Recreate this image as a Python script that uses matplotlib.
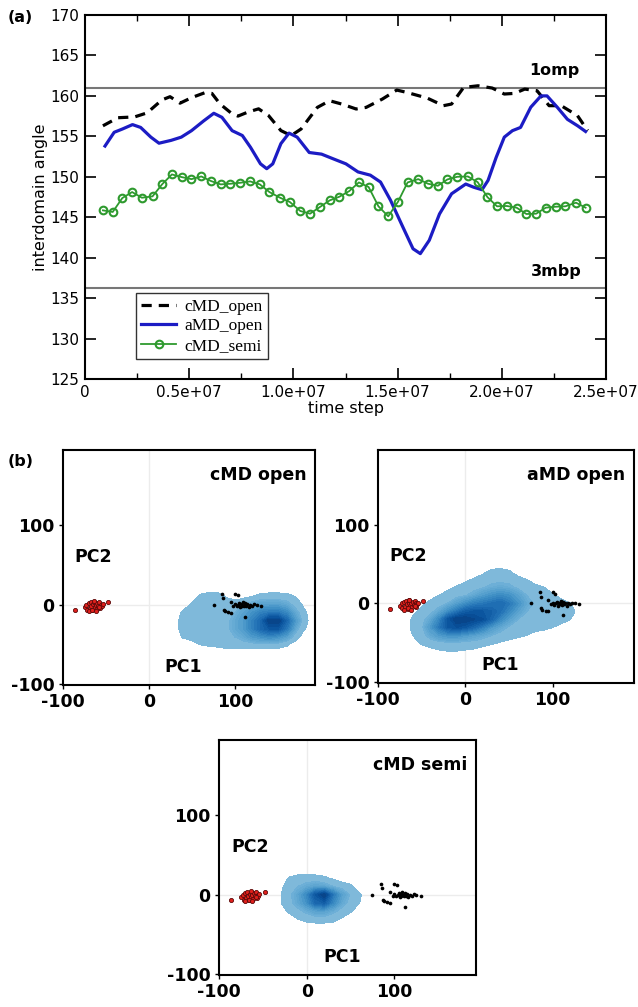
import numpy as np
import matplotlib
matplotlib.use("Agg")
import matplotlib.pyplot as plt
from matplotlib.colors import ListedColormap

# ---------------- DATA: panel (a) ----------------
cmd_open_t = [0.86, 1.58, 2.38, 2.98, 3.69, 4.08, 4.56, 5.13, 5.76, 6.09, 6.48, 7.05, 7.34,
              7.82, 8.33, 8.81, 9.40, 9.89, 10.37, 11.15, 11.74, 12.32, 13.01, 13.49, 14.27,
              14.96, 15.44, 16.42, 17.20, 17.59, 18.17, 18.86, 19.54, 20.12, 20.61, 21.10,
              21.69, 22.27, 22.85, 23.63, 24.12]
cmd_open_v = [156.3, 157.3, 157.4, 157.9, 159.5, 159.9, 159.1, 159.8, 160.4, 160.3, 159.0,
              157.8, 157.5, 158.0, 158.4, 157.56, 155.71, 155.09, 155.91, 158.58, 159.40,
              158.99, 158.38, 158.58, 159.61, 160.72, 160.43, 159.73, 158.79, 158.99, 161.05,
              161.25, 160.97, 160.23, 160.31, 160.84, 160.64, 158.79, 158.79, 157.56, 155.71]

amd_open_t = [0.96, 1.40, 1.79, 2.28, 2.67, 3.16, 3.55, 4.13, 4.62, 5.11, 5.69, 6.18, 6.57,
              7.06, 7.55, 7.94, 8.42, 8.72, 9.01, 9.40, 9.79, 10.18, 10.76, 11.35, 11.93,
              12.52, 13.10, 13.69, 14.18, 14.66, 15.25, 15.74, 16.09, 16.52, 17.01, 17.59,
              18.27, 18.66, 19.05, 19.34, 19.73, 20.12, 20.51, 20.90, 21.39, 21.88, 22.17,
              22.66, 23.15, 23.64, 24.02]
amd_open_v = [153.8, 155.5, 155.9, 156.45, 156.1, 154.9, 154.15, 154.5, 154.9, 155.7, 156.9,
              157.85, 157.35, 155.7, 155.1, 153.65, 151.6, 151.0, 151.6, 154.1, 155.4, 154.9,
              153.0, 152.8, 152.2, 151.6, 150.6, 150.2, 149.35, 147.1, 143.8, 141.1, 140.5,
              142.15, 145.4, 147.9, 149.1, 148.7, 148.4, 149.55, 152.4, 154.9, 155.7, 156.1,
              158.6, 160.0, 160.0, 158.6, 157.1, 156.3, 155.6]

cmd_semi_t = [0.86, 1.33, 1.79, 2.26, 2.73, 3.24, 3.71, 4.17, 4.64, 5.11, 5.58, 6.05, 6.51,
              6.98, 7.45, 7.92, 8.39, 8.85, 9.36, 9.83, 10.33, 10.80, 11.27, 11.74, 12.21,
              12.68, 13.14, 13.61, 14.08, 14.55, 15.02, 15.48, 15.99, 16.46, 16.93, 17.39,
              17.86, 18.37, 18.84, 19.31, 19.77, 20.24, 20.71, 21.18, 21.65, 22.11, 22.58,
              23.05, 23.56, 24.02]
cmd_semi_v = [145.85, 145.65, 147.37, 148.11, 147.41, 147.58, 149.10, 150.29, 149.96, 149.71,
              150.04, 149.47, 149.06, 149.14, 149.26, 149.43, 149.06, 148.11, 147.41, 146.88,
              145.77, 145.44, 146.26, 147.08, 147.54, 148.23, 149.30, 148.73, 146.35, 145.11,
              146.92, 149.30, 149.71, 149.14, 148.89, 149.67, 150.00, 150.04, 149.34, 147.49,
              146.35, 146.39, 146.18, 145.40, 145.44, 146.18, 146.30, 146.35, 146.80, 146.18]

ref_1omp = 161.0
ref_3mbp = 136.2
x_tick_vals = [0, 0.5e7, 1.0e7, 1.5e7, 2.0e7, 2.5e7]
x_tick_labels = ["0", "0.5e+07", "1.0e+07", "1.5e+07", "2.0e+07", "2.5e+07"]
y_tick_vals = [125, 130, 135, 140, 145, 150, 155, 160, 165, 170]

# ---------------- DATA: panel (b) ----------------
red_x = [-86, -75, -73, -72, -70, -69, -68, -67, -66, -65, -64, -63, -62, -61, -60, -59,
         -58, -57, -56, -55, -54, -48, -70, -66, -62, -58, -64]
red_y = [-7, -3, 0, -6, 2, -4, 3, -1, -7, 1, 4, -3, 0, -5, 2, -2, 3, -4, 0, -1, 1, 3, -8,
         -6, -8, -3, 5]
black_x = [75, 85, 86, 87, 92, 95, 98, 100, 102, 104, 105, 106, 107, 108, 109, 110, 111, 112,
           113, 114, 116, 118, 120, 122, 125, 100, 103, 88, 95, 112, 130]
black_y = [0, 14, 8, -6, -9, 4, -1, 1, -2, 0, 2, -3, 1, -1, 3, 0, -2, 2, -1, 1, -3, 0, -1, 1,
           0, 14, 12, -8, -10, -15, -1]

cmd_open_gx = [40, 50, 60, 70, 80, 90, 100, 110, 120, 130, 140, 150, 160, 170, 180]
cmd_open_gy = [10, 0, -10, -20, -30, -40, -50]
cmd_open_dens = [
    [0, 0, 0.7, 1, 1, 0.4, 0, 0.2, 0.5, 0.8, 0.9, 0.9, 0.8, 0.5, 0],
    [0, 0.6, 1, 1.2, 1.2, 1.1, 1.1, 1.5, 2, 2.5, 2.5, 2.5, 2, 1.1, 0.3],
    [0.7, 1, 1.1, 1.1, 1, 1, 1.5, 2.5, 3.5, 4.5, 5, 5, 4, 2, 0.7],
    [1, 1.1, 1.1, 1.1, 1, 1.1, 2, 3, 4.5, 6, 8.5, 8.5, 6, 3, 0.9],
    [1, 1.1, 1.1, 1, 1, 1.2, 2, 3, 4.5, 6, 7, 7, 5, 2, 0.6],
    [0.6, 0.9, 1, 1, 1, 1.1, 1.5, 2, 3, 3.5, 4, 3.5, 2.5, 1, 0],
    [0, 0, 0.5, 0.6, 0.7, 0.9, 1, 1, 1, 1, 1, 0.9, 0.6, 0, 0],
]

amd_open_gx = [-70, -60, -50, -40, -30, -20, -10, 0, 10, 20, 30, 40, 50, 60, 70, 80, 90, 100,
               110, 120, 130, 140]
amd_open_gy = [40, 30, 20, 10, 0, -10, -20, -30, -40, -50, -60]
amd_open_dens = [
    [0, 0, 0, 0, 0, 0, 0, 0, 0, 0.3, 0.7, 0.8, 0.6, 0, 0, 0, 0, 0, 0, 0, 0, 0],
    [0, 0, 0, 0, 0, 0, 0, 0.3, 0.6, 0.9, 1.1, 1.2, 1.1, 0.9, 0.5, 0, 0, 0, 0, 0, 0, 0],
    [0, 0, 0, 0, 0, 0.3, 0.6, 0.9, 1.1, 1.4, 1.8, 2, 1.8, 1.3, 1.1, 0.8, 0.5, 0, 0, 0, 0, 0],
    [0, 0, 0, 0.2, 0.5, 0.8, 1.1, 1.4, 2, 2.8, 3.5, 4, 3.5, 2.5, 1.5, 1.1, 0.9, 0.6, 0.3, 0, 0, 0],
    [0, 0, 0.3, 0.7, 1, 1.5, 2.5, 3.5, 4.5, 5, 5.5, 6, 5, 3.5, 2, 1.3, 1.1, 0.9, 0.7, 0.5, 0.2, 0],
    [0, 0.3, 0.7, 1.1, 2, 3.5, 5, 6.5, 7, 7, 6.5, 5.5, 4, 2.5, 1.5, 1.1, 1, 0.9, 0.8, 0.6, 0.4, 0],
    [0, 0.6, 1.1, 2, 4, 7, 8.5, 8.5, 8, 7.5, 6, 4, 2.5, 1.5, 1.1, 1, 0.8, 0.7, 0.6, 0.5, 0.3, 0],
    [0, 0.7, 1.2, 3, 5, 7, 7.5, 7, 6, 4.5, 3, 2, 1.3, 1.1, 0.9, 0.7, 0.6, 0.5, 0.4, 0.2, 0, 0],
    [0, 0.5, 1, 2, 3, 3.5, 3.5, 3, 2.5, 2, 1.5, 1.1, 0.9, 0.7, 0.5, 0.3, 0.3, 0.2, 0, 0, 0, 0],
    [0, 0.2, 0.6, 0.9, 1.1, 1.2, 1.2, 1.1, 1, 0.8, 0.6, 0.4, 0.2, 0, 0, 0, 0, 0, 0, 0, 0, 0],
    [0, 0, 0, 0.2, 0.4, 0.5, 0.5, 0.4, 0.3, 0.1, 0, 0, 0, 0, 0, 0, 0, 0, 0, 0, 0, 0],
]

cmd_semi_gx = [-30, -20, -10, 0, 10, 20, 30, 40, 50, 60]
cmd_semi_gy = [20, 10, 0, -10, -20, -30]
cmd_semi_dens = [
    [0, 0.6, 0.9, 1, 0.9, 0.7, 0.4, 0, 0, 0],
    [0.2, 1, 1.5, 2, 2.5, 2.2, 1.5, 1.1, 0.7, 0],
    [0.4, 1.2, 2.2, 4, 7, 8.5, 5, 2.5, 1.3, 0.6],
    [0.4, 1.1, 2, 3.5, 6, 6.5, 4, 2, 1.1, 0.5],
    [0, 0.7, 1.2, 1.8, 2.5, 2.5, 1.8, 1.1, 0.6, 0],
    [0, 0, 0.5, 0.8, 1, 1, 0.8, 0.4, 0, 0],
]

pca_panels = [
    ("cMD open", cmd_open_gx, cmd_open_gy, cmd_open_dens),
    ("aMD open", amd_open_gx, amd_open_gy, amd_open_dens),
    ("cMD semi", cmd_semi_gx, cmd_semi_gy, cmd_semi_dens),
]
pc_ticks = [-100, 0, 100]

# ---------------- FIGURE ----------------
W, H = 638, 1007
fig = plt.figure(figsize=(W / 100, H / 100), dpi=100)
plt.rcParams['font.family'] = ['DejaVu Sans']

def fx(px):
    return px / W

def fy(py):
    return 1 - py / H

# ---- panel (a)
axA = fig.add_axes([fx(85), fy(379), fx(606) - fx(85), fy(15) - fy(379)])
t = lambda arr: np.array(arr) * 1e6
axA.axhline(ref_1omp, color='#777777', lw=1.5, zorder=1)
axA.axhline(ref_3mbp, color='#777777', lw=1.5, zorder=1)
axA.plot(t(cmd_open_t), cmd_open_v, color='black', lw=2.3, ls=(0, (3.2, 2.2)),
         label='cMD_open', zorder=3)
axA.plot(t(amd_open_t), amd_open_v, color='#1c1cc4', lw=2.3, label='aMD_open', zorder=3)
axA.plot(t(cmd_semi_t), cmd_semi_v, color='#2e9a2e', lw=1.3, marker='o', ms=5.5,
         mfc='none', mec='#2e9a2e', mew=1.5, label='cMD_semi', zorder=4)
axA.set_xlim(0, 2.5e7)
axA.set_ylim(125, 170)
axA.set_xticks(x_tick_vals)
axA.set_xticklabels(x_tick_labels)
axA.set_xticks(np.array([0.25e7, 0.75e7, 1.25e7, 1.75e7, 2.25e7]), minor=True)
axA.set_yticks(y_tick_vals)
axA.tick_params(axis='both', which='major', direction='in', length=8, width=1.2,
                top=True, right=True, labelsize=11, pad=4)
axA.tick_params(axis='both', which='minor', direction='in', length=4, width=1.0,
                top=True, right=True)
for sp in axA.spines.values():
    sp.set_linewidth(1.5)
axA.set_xlabel('time step', fontsize=11.5, labelpad=1)
axA.set_ylabel('interdomain angle', fontsize=11.5, labelpad=2)
axA.text(22.5e6, 163.2, '1omp', fontsize=11.5, fontweight='bold', ha='center', va='center')
axA.text(22.6e6, 138.3, '3mbp', fontsize=11.5, fontweight='bold', ha='center', va='center')
leg = axA.legend(loc='upper left', bbox_to_anchor=(0.098, 0.235), frameon=True,
                 fancybox=False, edgecolor='black', borderpad=0.3, labelspacing=0.2,
                 handlelength=2.0, handletextpad=0.5, borderaxespad=0.0,
                 prop={'family': 'Liberation Serif', 'size': 12.5})
leg.get_frame().set_linewidth(1.0)
fig.text(fx(8), fy(18), '(a)', fontsize=11.5, fontweight='bold', va='center')
fig.text(fx(8), fy(462), '(b)', fontsize=11.5, fontweight='bold', va='center')

# ---- panel (b)
cmap = ListedColormap(plt.cm.Blues(np.linspace(0.42, 1.0, 256)))
levels = [0.5, 1.5, 1.8, 2.1, 2.5, 3.0, 3.5, 4.0, 4.5, 5.0, 5.5, 6.0, 6.5, 7.0, 7.5, 8.0,
          8.5, 9.5]
boxes = [
    (63, 315, 450, 685),
    (378, 634, 450, 683),
    (219, 476, 740, 975),
]
for (name, gx, gy, dens), (l, r, tp, bt) in zip(pca_panels, boxes):
    ax = fig.add_axes([fx(l), fy(bt), fx(r) - fx(l), fy(tp) - fy(bt)])
    ax.axvline(0, color='#ececec', lw=1.0, zorder=0)
    ax.axhline(0, color='#ececec', lw=1.0, zorder=0)
    Z = np.pad(np.array(dens, dtype=float)[::-1], 1)
    gxa = np.array(gx, dtype=float)
    gya = np.array(gy, dtype=float)[::-1]
    gxa = np.concatenate([[gxa[0] - 10], gxa, [gxa[-1] + 10]])
    gya = np.concatenate([[gya[0] - 10], gya, [gya[-1] + 10]])
    X, Y = np.meshgrid(gxa, gya)
    cs = ax.contourf(X, Y, Z, levels=levels, cmap=cmap, zorder=1)
    cs.set_edgecolor('face')
    cs.set_linewidth(0.6)
    ax.scatter(red_x, red_y, s=9, c='#e0201c', edgecolors='#5a0a0a', linewidths=0.6,
               zorder=3)
    ax.scatter(black_x, black_y, s=7, c='black', linewidths=0, zorder=3)
    ax.set_xlim(-100, 193)
    ax.set_ylim(-101, 195)
    ax.set_xticks(pc_ticks)
    ax.set_yticks(pc_ticks)
    ax.set_xticklabels([str(v) for v in pc_ticks])
    ax.set_yticklabels([str(v) for v in pc_ticks])
    ax.tick_params(axis='both', direction='out', length=3, width=1, labelsize=12.5, pad=3)
    for lab in ax.get_xticklabels() + ax.get_yticklabels():
        lab.set_fontweight('bold')
    for sp in ax.spines.values():
        sp.set_linewidth(1.5)
    ax.text(183, 163, name, fontsize=12.5, fontweight='bold', ha='right', va='center')
    ax.text(-65, 60, 'PC2', fontsize=12.5, fontweight='bold', ha='center', va='center')
    ax.text(40, -78, 'PC1', fontsize=12.5, fontweight='bold', ha='center', va='center')

fig.savefig('out.png', dpi=100)
